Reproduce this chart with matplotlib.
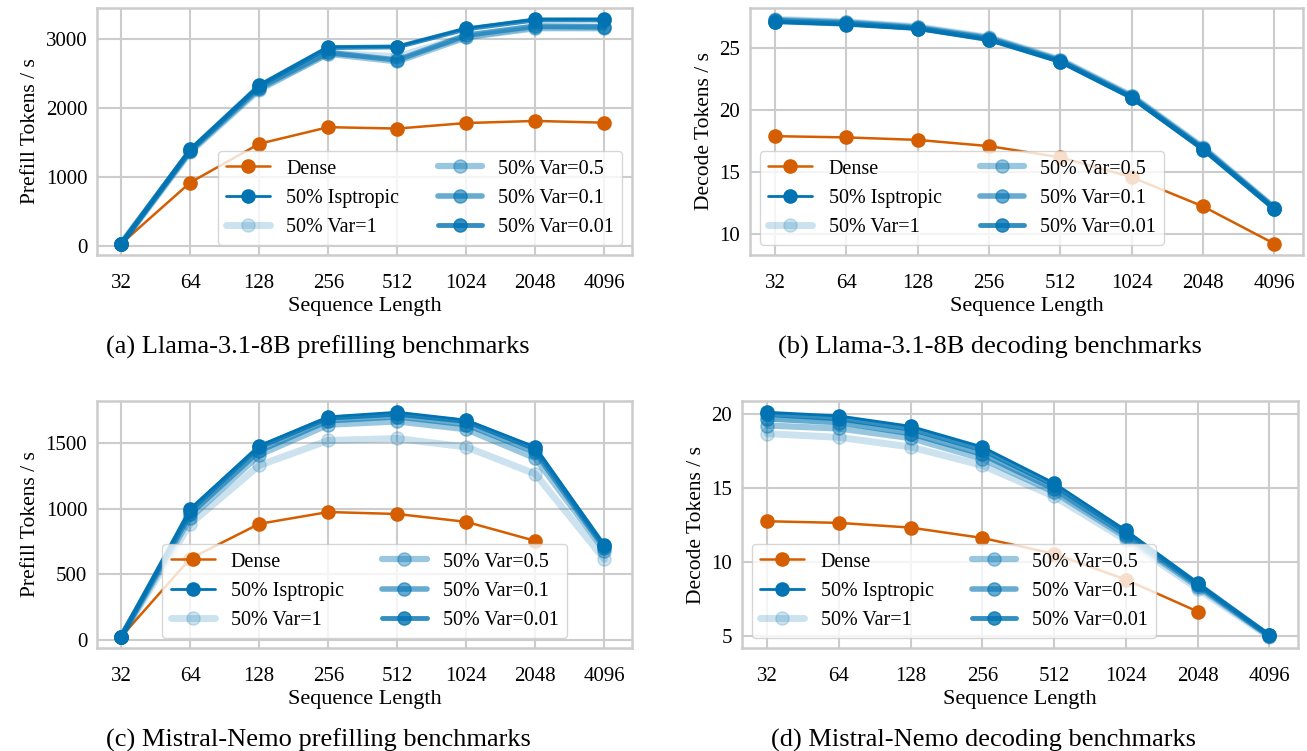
import numpy as np
import matplotlib
matplotlib.use("Agg")
import matplotlib.pyplot as plt
import seaborn as sns

sns.set_style("whitegrid")
plt.rcParams['font.family'] = ['Liberation Serif', 'DejaVu Serif']
plt.rcParams['axes.linewidth'] = 1.8
plt.rcParams['grid.linewidth'] = 1.5
plt.rcParams['text.color'] = 'black'
plt.rcParams['axes.labelcolor'] = 'black'
plt.rcParams['xtick.color'] = 'black'
plt.rcParams['ytick.color'] = 'black'

seq_labels = ['32', '64', '128', '256', '512', '1024', '2048', '4096']
labels = ['Dense', '50% Isptropic', '50% Var=1', '50% Var=0.5', '50% Var=0.1', '50% Var=0.01']

# (a) Llama-3.1-8B prefill
llama_prefill = {
    'Dense':         [35, 920, 1480, 1720, 1700, 1780, 1810, 1785],
    '50% Isptropic': [35, 1400, 2330, 2880, 2885, 3150, 3280, 3280],
    '50% Var=1':     [35, 1360, 2260, 2790, 2740, 3030, 3170, 3170],
    '50% Var=0.5':   [35, 1370, 2270, 2780, 2670, 3020, 3150, 3150],
    '50% Var=0.1':   [35, 1380, 2290, 2800, 2690, 3050, 3180, 3170],
    '50% Var=0.01':  [35, 1390, 2320, 2870, 2880, 3140, 3270, 3270],
}

# (b) Llama-3.1-8B decode
llama_decode = {
    'Dense':         [17.9, 17.8, 17.6, 17.1, 16.2, 14.6, 12.25, 9.25],
    '50% Isptropic': [27.05, 26.85, 26.5, 25.6, 23.85, 20.95, 16.8, 12.05],
    '50% Var=1':     [27.3, 27.1, 26.7, 25.85, 24.05, 21.15, 17.0, 12.15],
    '50% Var=0.5':   [27.25, 27.05, 26.65, 25.8, 24.0, 21.1, 16.95, 12.1],
    '50% Var=0.1':   [27.2, 27.0, 26.6, 25.75, 23.95, 21.05, 16.9, 12.1],
    '50% Var=0.01':  [27.1, 26.9, 26.55, 25.65, 23.9, 21.0, 16.85, 12.05],
}

# (c) Mistral-Nemo prefill
mistral_prefill = {
    'Dense':         [25, 620, 885, 975, 960, 900, 755, np.nan],
    '50% Isptropic': [25, 1000, 1480, 1700, 1735, 1675, 1470, 725],
    '50% Var=1':     [25, 885, 1330, 1520, 1535, 1470, 1265, 615],
    '50% Var=0.5':   [25, 930, 1410, 1640, 1665, 1605, 1385, 680],
    '50% Var=0.1':   [25, 960, 1440, 1670, 1700, 1640, 1430, 700],
    '50% Var=0.01':  [25, 985, 1470, 1690, 1720, 1665, 1455, 715],
}

# (d) Mistral-Nemo decode
mistral_decode = {
    'Dense':         [12.77, 12.66, 12.34, 11.64, 10.57, 8.82, 6.66, np.nan],
    '50% Isptropic': [20.15, 19.9, 19.2, 17.8, 15.35, 12.15, 8.6, 5.05],
    '50% Var=1':     [18.7, 18.45, 17.8, 16.55, 14.45, 11.5, 8.2, 4.95],
    '50% Var=0.5':   [19.25, 19.05, 18.4, 17.0, 14.75, 11.7, 8.35, 5.0],
    '50% Var=0.1':   [19.7, 19.45, 18.7, 17.3, 14.95, 11.85, 8.45, 5.0],
    '50% Var=0.01':  [20.0, 19.7, 19.0, 17.6, 15.2, 12.05, 8.55, 5.05],
}

orange = '#d55e00'
blue = '#0173b2'
styles = {
    'Dense':         dict(color=orange, lw=1.8, alpha=1.0),
    '50% Isptropic': dict(color=blue, lw=2.0, alpha=1.0),
    '50% Var=1':     dict(color=blue, lw=5, alpha=0.2),
    '50% Var=0.5':   dict(color=blue, lw=4.5, alpha=0.4),
    '50% Var=0.1':   dict(color=blue, lw=4, alpha=0.6),
    '50% Var=0.01':  dict(color=blue, lw=3.5, alpha=0.8),
}

panels = [
    (llama_prefill, 'Prefill Tokens / s', [0, 1000, 2000, 3000], 'lower right',
     '(a) Llama-3.1-8B prefilling benchmarks', [97, 8, 632, 255], 318),
    (llama_decode, 'Decode Tokens / s', [10, 15, 20, 25], 'lower left',
     '(b) Llama-3.1-8B decoding benchmarks', [750, 8, 1303, 255], 990),
    (mistral_prefill, 'Prefill Tokens / s', [0, 500, 1000, 1500], 'lower center',
     '(c) Mistral-Nemo prefilling benchmarks', [97, 401, 632, 648], 318),
    (mistral_decode, 'Decode Tokens / s', [5, 10, 15, 20], 'lower left',
     '(d) Mistral-Nemo decoding benchmarks', [742, 401, 1298, 648], 984),
]

W, H = 1307, 751
fig = plt.figure(figsize=(W / 100, H / 100), dpi=100)
x = np.arange(len(seq_labels))

for data, ylabel, yticks, loc, caption, box, cap_x in panels:
    l, t, r, b = box
    ax = fig.add_axes([l / W, 1 - b / H, (r - l) / W, (b - t) / H])
    for name in labels:
        st = styles[name]
        ax.plot(x, data[name], marker='o', markersize=9.5, label=name, **st)
    ax.set_xticks(x)
    ax.set_xticklabels(seq_labels)
    ax.set_yticks(yticks)
    ax.set_xlim(-0.35, 7.4)
    ax.tick_params(labelsize=15)
    ax.tick_params(axis='x', pad=10)
    ax.set_xlabel('Sequence Length', fontsize=16, labelpad=3)
    ax.set_ylabel(ylabel, fontsize=15.5)
    ax.legend(ncol=2, loc=loc, fontsize=14.5, columnspacing=1.9, handlelength=2.2)
    fig.text(cap_x / W, 1 - (b + 92) / H, caption, ha='center', va='center',
             fontsize=19)

fig.savefig('out.png', dpi=100)
